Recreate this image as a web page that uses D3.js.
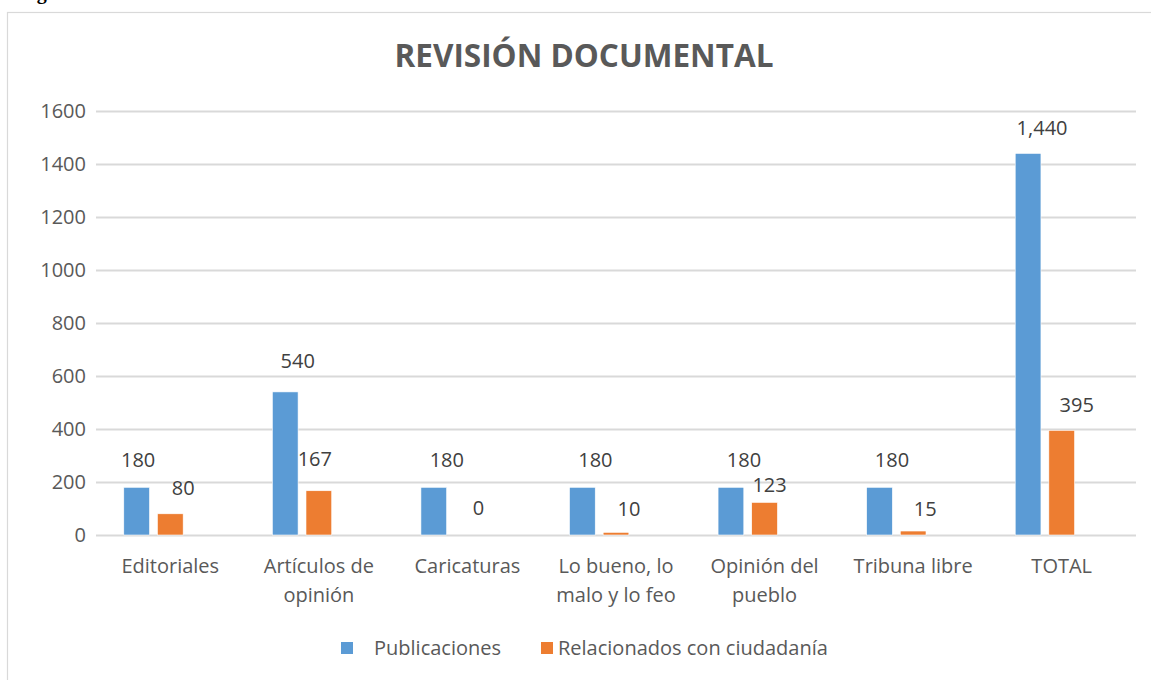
<!DOCTYPE html>
<html>
<head>
<meta charset="utf-8">
<script src="https://cdn.jsdelivr.net/npm/d3@7"></script>
<style>
  html, body { margin: 0; padding: 0; background: #fff; }
  svg { display: block; }
  text { font-family: "Open Sans", "Noto Sans", sans-serif; fill: #595959; }
</style>
</head>
<body>
<svg id="chart" width="1151" height="680"></svg>
<script>
// data
const categories = ['Editoriales', 'Artículos de\nopinión', 'Caricaturas', 'Lo bueno, lo\nmalo y lo feo', 'Opinión del\npueblo', 'Tribuna libre', 'TOTAL'];
const seriesNames = ['Publicaciones', 'Relacionados con ciudadanía'];
const publicaciones = [180, 540, 180, 180, 180, 180, 1440];
const ciudadania = [80, 167, 0, 10, 123, 15, 395];
const yTicks = [0, 200, 400, 600, 800, 1000, 1200, 1400, 1600];

// data label nudges (label placement in the source was hand tweaked)
const labelDx = [
  [1.5, 12.5, 13, 13, 13, 12.5, 14],
  [13, -4, 11, 13, 5, 12, 15]
];
const labelGap = [
  [20, 24, 20, 20, 20, 20, 18.5],
  [19, 25, 20, 16.5, 10, 15, 18.5]
];

const colors = ['#5b9bd5', '#ed7d31'];
const width = 1151, height = 680;
const plot = { left: 96, right: 1136, top: 111, bottom: 535 };

const svg = d3.select('#chart');
svg.append('rect').attr('width', width).attr('height', height).attr('fill', '#fff');

// caption cut off at the top of the page (as in the reference)
svg.append('text')
  .attr('x', 19).attr('y', -1)
  .style('font-family', '"Liberation Serif", serif')
  .style('font-weight', 'bold')
  .style('font-size', '20px')
  .style('fill', '#000')
  .text('Figura');

// chart area border
svg.append('rect')
  .attr('x', 7.5).attr('y', 12.5)
  .attr('width', 1160).attr('height', 700)
  .attr('fill', 'none')
  .attr('stroke', '#d9d9d9')
  .attr('stroke-width', 1.2);

svg.append('text')
  .attr('x', 584).attr('y', 67)
  .attr('text-anchor', 'middle')
  .style('font-size', '31.5px')
  .style('font-weight', 'bold')
  .text('REVISIÓN DOCUMENTAL');

const x0 = d3.scaleBand().domain(categories).range([plot.left, plot.right])
  .paddingInner(0.374).paddingOuter(0.187);
// three slots per cluster, the third series is empty in the source chart
const x1 = d3.scaleBand().domain([0, 1, 2]).range([0, x0.bandwidth()]).paddingInner(0.235);
const y = d3.scaleLinear().domain([0, 1600]).range([plot.bottom, plot.top]);

// gridlines + y tick labels
const yAxis = svg.append('g')
  .attr('transform', `translate(${plot.left},0)`)
  .call(d3.axisLeft(y).tickValues(yTicks).tickFormat(d3.format('d'))
    .tickSize(-(plot.right - plot.left)).tickPadding(10));
yAxis.select('.domain').remove();
yAxis.selectAll('.tick line').attr('stroke', '#d9d9d9').attr('stroke-width', 2);
yAxis.selectAll('.tick text')
  .attr('fill', '#595959')
  .style('font-size', '20px')
  .style('font-family', '"Open Sans", sans-serif')
  .attr('dy', '0.34em');

// category labels
const xAxis = svg.append('g')
  .attr('transform', `translate(0,${plot.bottom})`)
  .call(d3.axisBottom(x0).tickSize(0).tickFormat(''));
xAxis.select('.domain').remove();
xAxis.selectAll('.tick').each(function (d) {
  const t = d3.select(this).append('text')
    .attr('text-anchor', 'middle')
    .attr('fill', '#595959')
    .style('font-size', '20px')
    .style('font-family', '"Open Sans", sans-serif');
  d.split('\n').forEach((line, i) => {
    t.append('tspan').attr('x', 0).attr('y', 38 + i * 28.5).text(line);
  });
});

const series = [publicaciones, ciudadania];
const fmt = d3.format(',');

series.forEach((vals, s) => {
  const g = svg.append('g');
  g.selectAll('rect')
    .data(vals)
    .enter().append('rect')
    .attr('x', (d, i) => x0(categories[i]) + x1(s))
    .attr('y', d => y(d))
    .attr('width', x1.bandwidth())
    .attr('height', d => y(0) - y(d))
    .attr('fill', colors[s])
    .attr('stroke', '#fff')
    .attr('stroke-width', 0.6);
  g.selectAll('text')
    .data(vals)
    .enter().append('text')
    .attr('x', (d, i) => x0(categories[i]) + x1(s) + x1.bandwidth() / 2 + labelDx[s][i])
    .attr('y', (d, i) => y(d) - labelGap[s][i])
    .attr('text-anchor', 'middle')
    .style('font-size', '20px')
    .style('fill', '#404040')
    .text(d => fmt(d));
});

// legend
const legendX = [341, 541];
const legend = svg.append('g');
seriesNames.forEach((name, i) => {
  legend.append('rect')
    .attr('x', legendX[i]).attr('y', 642)
    .attr('width', 12).attr('height', 12)
    .attr('fill', colors[i]);
  legend.append('text')
    .attr('x', legendX[i] + (i === 0 ? 33 : 17)).attr('y', 655)
    .style('font-size', '20px')
    .text(name);
});
</script>
</body>
</html>
